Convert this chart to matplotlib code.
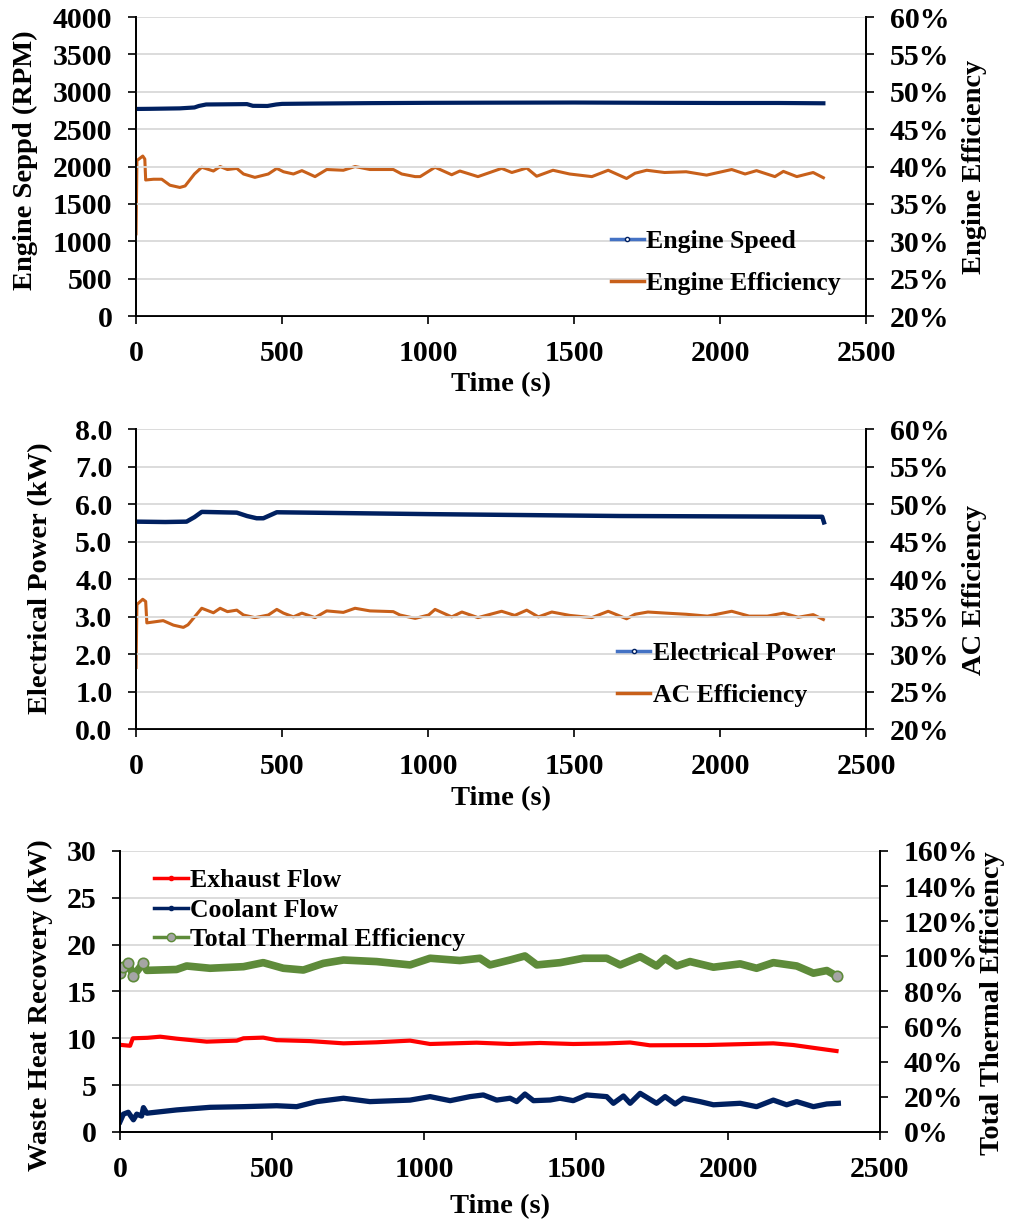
import matplotlib
matplotlib.use("Agg")
import matplotlib.pyplot as plt
from matplotlib.lines import Line2D
from matplotlib.ticker import FuncFormatter, MultipleLocator

plt.rcParams['font.family'] = ['Liberation Serif', 'DejaVu Serif']
plt.rcParams['font.weight'] = 'bold'
plt.rcParams['axes.labelweight'] = 'bold'

# ---- panel 1 : engine speed / engine efficiency
speed_t = [0, 50, 100, 150, 200, 215, 240, 300, 380, 400, 450, 480, 500, 600, 800, 1000, 1200, 1500, 1800, 2000, 2200, 2354]
speed_rpm = [2770, 2772, 2775, 2778, 2790, 2810, 2830, 2832, 2835, 2812, 2810, 2830, 2838, 2842, 2848, 2852, 2854, 2856, 2852, 2850, 2850, 2846]

eng_eff_t = [0, 3, 23, 30, 33, 60, 88, 116, 150, 168, 200, 225, 265, 288, 313, 345, 368, 407, 453, 482,
             505, 539, 568, 613, 653, 710, 750, 801, 881, 910, 956, 973, 1024, 1081, 1109, 1171, 1252, 1287, 1338, 1372,
             1428, 1485, 1561, 1617, 1680, 1709, 1749, 1810, 1884, 1954, 2040, 2086, 2125, 2188, 2217, 2263, 2319, 2354]
eng_eff = [31.0, 40.8, 41.4, 41.0, 38.2, 38.3, 38.3, 37.5, 37.2, 37.4, 39.0, 39.9, 39.4, 40.0, 39.6, 39.75, 39.0, 38.55, 39.0, 39.75,
           39.3, 39.0, 39.45, 38.65, 39.6, 39.5, 40.0, 39.6, 39.6, 39.0, 38.65, 38.65, 39.9, 38.9, 39.4, 38.65, 39.75, 39.2, 39.8, 38.7,
           39.5, 39.0, 38.65, 39.5, 38.4, 39.1, 39.5, 39.2, 39.3, 38.85, 39.6, 39.0, 39.45, 38.65, 39.35, 38.65, 39.2, 38.5]

# ---- panel 2 : electrical power / AC efficiency
power_t = [0, 100, 173, 200, 225, 345, 380, 413, 436, 482, 1007, 1658, 2350, 2356]
power_kw = [5.53, 5.52, 5.53, 5.65, 5.79, 5.77, 5.68, 5.62, 5.62, 5.78, 5.73, 5.68, 5.66, 5.51]

ac_eff_t = [0, 3, 23, 33, 37, 93, 128, 162, 178, 225, 265, 288, 313, 345, 368, 407, 453, 482, 505, 539,
            568, 613, 653, 710, 750, 801, 881, 904, 956, 1002, 1024, 1081, 1116, 1171, 1252, 1297, 1338, 1378, 1424, 1485,
            1561, 1617, 1680, 1709, 1753, 1816, 1884, 1957, 2040, 2100, 2162, 2217, 2268, 2319, 2354]
ac_eff = [28.2, 36.6, 37.3, 37.0, 34.15, 34.45, 33.85, 33.55, 33.9, 36.1, 35.5, 36.1, 35.65, 35.85, 35.2, 34.85, 35.2, 35.95, 35.45, 34.95,
          35.45, 34.85, 35.75, 35.55, 36.1, 35.75, 35.65, 35.2, 34.75, 35.2, 35.95, 34.95, 35.6, 34.85, 35.7, 35.15, 35.85, 34.95, 35.6, 35.15,
          34.85, 35.7, 34.7, 35.3, 35.6, 35.45, 35.3, 35.05, 35.7, 35.05, 35.05, 35.45, 34.9, 35.25, 34.6]

# ---- panel 3 : waste heat recovery
exh_t = [0, 33, 42, 90, 132, 186, 285, 384, 406, 471, 515, 625, 735, 844, 954, 1020, 1173, 1283, 1382, 1491,
         1600, 1678, 1743, 1930, 2149, 2215, 2292, 2357]
exh_kw = [9.3, 9.2, 10.0, 10.05, 10.17, 9.96, 9.64, 9.75, 10.0, 10.07, 9.8, 9.7, 9.46, 9.57, 9.75, 9.39, 9.53, 9.39, 9.5, 9.39,
          9.45, 9.55, 9.25, 9.28, 9.46, 9.28, 8.93, 8.64]

cool_t = [0, 11, 27, 44, 55, 71, 77, 88, 186, 296, 406, 515, 581, 647, 735, 822, 954, 1020, 1086, 1151,
          1195, 1239, 1283, 1305, 1332, 1360, 1415, 1447, 1491, 1535, 1601, 1623, 1656, 1678, 1711, 1765, 1793, 1826, 1853, 1908,
          1952, 2040, 2094, 2149, 2193, 2226, 2281, 2325, 2363]
cool_kw = [1.1, 1.9, 2.1, 1.3, 1.9, 1.7, 2.6, 2.0, 2.35, 2.63, 2.7, 2.8, 2.7, 3.24, 3.6, 3.24, 3.4, 3.77, 3.34, 3.77,
           3.95, 3.4, 3.6, 3.24, 4.05, 3.34, 3.41, 3.6, 3.34, 3.95, 3.77, 3.06, 3.84, 3.06, 4.12, 3.06, 3.77, 2.99, 3.6, 3.24,
           2.9, 3.06, 2.7, 3.4, 2.9, 3.24, 2.7, 2.99, 3.06]

therm_t = [0, 11, 27, 44, 60, 77, 88, 186, 219, 296, 406, 471, 537, 603, 669, 735, 844, 954, 1020, 1118,
           1184, 1217, 1283, 1332, 1371, 1448, 1524, 1601, 1645, 1711, 1765, 1793, 1831, 1875, 1952, 2040, 2094, 2149, 2226, 2281,
           2325, 2357]
therm_eff = [90.4, 94.1, 96.3, 88.8, 92.5, 96.3, 92.0, 92.5, 94.5, 93.2, 94.1, 96.4, 93.2, 92.2, 96.0, 97.9, 97.0, 95.1, 98.9, 97.6,
             98.9, 95.1, 97.9, 100.2, 95.1, 96.4, 98.9, 98.9, 95.1, 99.8, 94.5, 98.9, 94.5, 97.0, 93.8, 95.7, 93.2, 96.4, 94.5, 90.4,
             91.9, 88.8]

NAVY = '#002060'
LBLUE = '#4472C4'
ORANGE = '#C8601A'
RED = '#FF0000'
GREEN = '#5E8B3A'
GREY = '#A5A5A5'
TICK_FS = 21.5
LAB_FS = 20.5
LEG_FS = 18.5

pct = FuncFormatter(lambda v, p: "%d%%" % round(v))
W, H = 1013.0, 1224.0


def style(ax, ax2, xpad):
    for a in (ax, ax2):
        a.spines['top'].set_visible(False)
        for s in ('left', 'right', 'bottom'):
            a.spines[s].set_linewidth(1.3)
        a.tick_params(direction='out', length=6, width=1.2, labelsize=TICK_FS, pad=11)
    ax.set_xlim(0, 2500)
    ax.xaxis.set_major_locator(MultipleLocator(500))
    ax.grid(axis='y', color='#D9D9D9', lw=1.3)
    ax.set_axisbelow(True)
    ax.set_xlabel("Time (s)", fontsize=LAB_FS, labelpad=xpad)


def place_labels(ax, ax2, xl, yl, xr, yr):
    # label centres, in pixels
    ax.yaxis.set_label_coords((xl + 13) / W, 1 - yl / H, transform=fig.transFigure)
    ax2.yaxis.set_label_coords((xr - 13) / W, 1 - yr / H, transform=fig.transFigure)


fig = plt.figure(figsize=(10.13, 12.24), dpi=100)

# panel 1
ax1 = fig.add_axes([0.1343, 0.7418, 0.7206, 0.2443])
ax1b = ax1.twinx()
ax1.plot(speed_t, speed_rpm, color=NAVY, lw=3.0)
ax1b.plot(eng_eff_t, eng_eff, color=ORANGE, lw=2.2)
ax1.set_ylim(0, 4000)
ax1.yaxis.set_major_locator(MultipleLocator(500))
ax1b.set_ylim(20, 60)
ax1b.yaxis.set_major_locator(MultipleLocator(5))
ax1b.yaxis.set_major_formatter(pct)
ax1.set_ylabel("Engine Seppd (RPM)", fontsize=LAB_FS)
ax1b.set_ylabel("Engine Efficiency", fontsize=LAB_FS)
style(ax1, ax1b, 4)
place_labels(ax1, ax1b, 25, 160, 975, 167)
ax1.set_zorder(ax1b.get_zorder() + 1)
ax1.patch.set_visible(False)
h1 = [Line2D([], [], color=LBLUE, lw=2.5, marker='o', ms=3, mfc='white', mec=NAVY),
      Line2D([], [], color=ORANGE, lw=2.5)]
ax1.legend(h1, ["Engine Speed", "Engine Efficiency"], loc='upper left', bbox_to_anchor=(0.65, 0.287),
           frameon=False, fontsize=LEG_FS, handlelength=1.3, handletextpad=0.1, labelspacing=0.75,
           borderaxespad=0, borderpad=0)

# panel 2
ax2 = fig.add_axes([0.1343, 0.4044, 0.7206, 0.2451])
ax2b = ax2.twinx()
ax2.plot(power_t, power_kw, color=NAVY, lw=3.2)
ax2b.plot(ac_eff_t, ac_eff, color=ORANGE, lw=2.2)
ax2.set_ylim(0, 8)
ax2.yaxis.set_major_locator(MultipleLocator(1))
ax2.yaxis.set_major_formatter(FuncFormatter(lambda v, p: "%.1f" % v))
ax2b.set_ylim(20, 60)
ax2b.yaxis.set_major_locator(MultipleLocator(5))
ax2b.yaxis.set_major_formatter(pct)
ax2.set_ylabel("Electrical Power (kW)", fontsize=LAB_FS)
ax2b.set_ylabel("AC Efficiency", fontsize=LAB_FS)
style(ax2, ax2b, 5)
place_labels(ax2, ax2b, 40, 578, 975, 590)
ax2.set_zorder(ax2b.get_zorder() + 1)
ax2.patch.set_visible(False)
h2 = [Line2D([], [], color=LBLUE, lw=2.5, marker='o', ms=3, mfc='white', mec=NAVY),
      Line2D([], [], color=ORANGE, lw=2.5)]
ax2.legend(h2, ["Electrical Power", "AC Efficiency"], loc='upper left', bbox_to_anchor=(0.659, 0.29),
           frameon=False, fontsize=LEG_FS, handlelength=1.3, handletextpad=0.1, labelspacing=0.75,
           borderaxespad=0, borderpad=0)

# panel 3
ax3 = fig.add_axes([0.1185, 0.0752, 0.7502, 0.2296])
ax3b = ax3.twinx()
ax3.plot(exh_t, exh_kw, color=RED, lw=3.0)
ax3.plot(cool_t, cool_kw, color=NAVY, lw=3.8)
ax3b.plot(therm_t, therm_eff, color=GREEN, lw=5.5, marker='o', ms=7.5, mfc=GREY, mec=GREEN, mew=1.2,
          markevery=[0, 1, 2, 3, 5, len(therm_t) - 1])
ax3.set_ylim(0, 30)
ax3.yaxis.set_major_locator(MultipleLocator(5))
ax3b.set_ylim(0, 160)
ax3b.yaxis.set_major_locator(MultipleLocator(20))
ax3b.yaxis.set_major_formatter(pct)
ax3.set_ylabel("Waste Heat Recovery (kW)", fontsize=LAB_FS)
ax3b.set_ylabel("Total Thermal Efficiency", fontsize=LAB_FS)
style(ax3, ax3b, 8)
place_labels(ax3, ax3b, 40, 1005, 993, 1003)
h3 = [Line2D([], [], color=RED, lw=2.5, marker='o', ms=3, mfc=RED, mec=RED),
      Line2D([], [], color=NAVY, lw=2.5, marker='o', ms=3, mfc=NAVY, mec=NAVY),
      Line2D([], [], color=GREEN, lw=2.5, marker='o', ms=6, mfc=GREY, mec=GREEN)]
ax3b.legend(h3, ["Exhaust Flow", "Coolant Flow", "Total Thermal Efficiency"], loc='upper left',
            bbox_to_anchor=(0.045, 0.934), frameon=False, fontsize=LEG_FS, handlelength=1.3,
            handletextpad=0.1, labelspacing=0.245, borderaxespad=0, borderpad=0)

fig.savefig("out.png", dpi=100)
